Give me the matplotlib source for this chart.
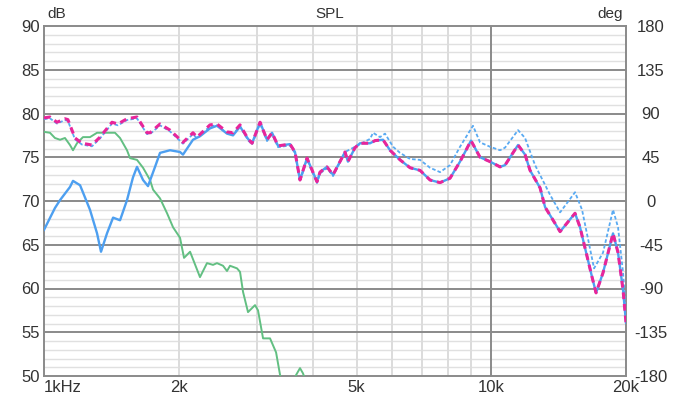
import numpy as np
import matplotlib.pyplot as plt
from matplotlib.ticker import FixedLocator, NullFormatter

plt.rcParams['font.family'] = ['Liberation Sans', 'DejaVu Sans']

# summed response (magenta dashed)
sum_f = [1000, 1031, 1069, 1114, 1131, 1173, 1216, 1280, 1334, 1419, 1463, 1533, 1614,
         1699, 1726, 1817, 1913, 2045, 2153, 2198, 2350, 2436, 2565, 2646, 2743, 2858,
         2918, 3041, 3152, 3234, 3336, 3548, 3640, 3735, 3872, 4076, 4140, 4290, 4428,
         4709, 4780, 4958, 5087, 5357, 5495, 5726, 5937, 6251, 6581, 6928, 7294, 7679,
         8084, 8511, 9006, 9435, 9933, 10458, 10731, 11474, 11895, 12205, 12851, 13187,
         14245, 15385, 15786, 16794, 17143, 17770, 18708, 19196, 19700, 20000]
sum_db = [79.5, 79.6, 79.0, 79.4, 79.3, 77.2, 76.6, 76.4, 77.3, 79.0, 78.8, 79.4, 79.6,
          77.8, 77.8, 78.8, 78.1, 76.7, 77.8, 77.3, 78.7, 78.8, 77.9, 77.8, 78.7, 77.1,
          76.6, 79.0, 77.0, 77.8, 76.3, 76.5, 75.6, 72.4, 74.9, 72.2, 73.3, 73.9, 73.0,
          75.6, 74.5, 76.1, 76.6, 76.6, 76.9, 77.0, 75.8, 74.7, 73.8, 73.5, 72.4, 72.1,
          72.6, 74.5, 76.9, 75.0, 74.5, 73.9, 74.1, 76.4, 75.3, 73.5, 71.5, 69.3,
          66.5, 68.6, 67.0, 61.3, 59.5, 61.8, 66.3, 64.1, 59.8, 56.1]

# tweeter (blue solid), low part read separately, top part follows the sum
tw_f = [1000, 1058, 1086, 1143, 1161, 1204, 1267, 1314, 1341, 1383, 1427, 1479, 1533,
        1581, 1614, 1665, 1708, 1771, 1817, 1913, 2014, 2045, 2153, 2232, 2350, 2436,
        2565, 2646, 2743] + sum_f[25:]
tw_db = [66.7, 69.2, 70.1, 71.6, 72.3, 71.8, 69.0, 66.3, 64.2, 66.3, 68.1, 67.8, 70.1,
         72.7, 73.9, 72.4, 71.7, 73.9, 75.5, 75.8, 75.6, 75.3, 77.0, 77.4, 78.3, 78.6,
         77.7, 77.5, 78.5] + sum_db[25:]

# woofer (green)
wf_f = [1000, 1031, 1058, 1086, 1114, 1143, 1161, 1185, 1222, 1267, 1314, 1355, 1405,
        1441, 1479, 1533, 1557, 1614, 1665, 1726, 1753, 1817, 1884, 1943, 2014, 2056,
        2121, 2232, 2314, 2387, 2436, 2513, 2565, 2605, 2701, 2743, 2786, 2858, 2963,
        3009, 3088, 3201, 3302, 3371, 3500, 3659, 3735, 3793, 3872, 4000]
wf_db = [77.9, 77.8, 77.2, 77.0, 77.2, 76.4, 75.8, 76.6, 77.3, 77.3, 77.8, 77.8, 77.8,
         77.8, 77.2, 75.8, 74.9, 74.7, 73.8, 72.4, 71.3, 70.3, 68.6, 67.0, 65.8, 63.5,
         64.2, 61.3, 62.9, 62.7, 62.9, 62.6, 62.0, 62.6, 62.3, 61.9, 59.6, 57.3, 58.1,
         57.5, 54.3, 54.3, 52.7, 50.1, 47.5, 50.1, 50.9, 50.3, 49.0, 46.0]

# second summed response (light blue dotted)
dot_f = sum_f[:39] + [4709, 4958, 5357, 5440, 5638, 5785, 6030, 6251, 6581, 6928, 7294,
                      7679, 8084, 8511, 9099, 9435, 9933, 10458, 10731, 11474, 11895,
                      12524, 13531, 14245, 15385, 15950, 16968, 17770, 18708, 19196,
                      19700, 20000]
dot_db = [v - 0.15 for v in sum_db[:39]] + [75.6, 76.2, 77.1, 77.8, 77.3, 77.7, 76.2, 75.5,
                                            74.8, 74.7, 73.8, 73.3, 74.1, 76.2, 78.6, 76.7,
                                            76.2, 75.8, 76.1, 78.1, 77.2, 74.1, 70.7, 68.7,
                                            71.0, 69.0, 62.3, 64.1, 69.0, 67.0, 61.8, 57.2]

x_ticks = [1000, 2000, 5000, 10000, 20000]
x_labels = ['1kHz', '2k', '5k', '10k', '20k']
db_ticks = [50, 55, 60, 65, 70, 75, 80, 85, 90]
deg_ticks = [-180, -135, -90, -45, 0, 45, 90, 135, 180]

fig = plt.figure(figsize=(6.74, 3.95), dpi=100)
ax = fig.add_axes([44 / 674, 1 - 376 / 395, 582 / 674, 350 / 395])
ax.set_xscale('log')
ax.set_xlim(1000, 20000)
ax.set_ylim(50, 90)

# grid
for v in range(51, 90):
    if v % 5:
        ax.axhline(v, color='#e0e0e0', lw=1.0, zorder=0)
for v in db_ticks[1:-1]:
    ax.axhline(v, color='#8a8a8a', lw=1.4, zorder=1)
for f in [2000, 3000, 4000, 5000, 6000, 7000, 8000, 9000]:
    ax.axvline(f, color='#dcdcdc', lw=1.4, zorder=0)
ax.axvline(10000, color='#8a8a8a', lw=1.4, zorder=1)
for s in ax.spines.values():
    s.set_color('#8a8a8a')
    s.set_linewidth(1.4)

ax.plot(wf_f, wf_db, color='#62bf82', lw=1.4, zorder=3)
ax.plot(dot_f, dot_db, color='#59aaf2', lw=1.3, ls=(0, (2, 1.2)), zorder=3)
ax.plot(tw_f, tw_db, color='#4d9ff0', lw=1.7, zorder=4)
ax.plot(sum_f, sum_db, color='#e8259a', lw=2.2, ls=(0, (2.2, 1.6)), zorder=5)

ax.xaxis.set_major_locator(FixedLocator(x_ticks))
ax.xaxis.set_minor_formatter(NullFormatter())
ax.set_xticklabels(x_labels)
ax.set_yticks(db_ticks)
ax.tick_params(length=0, labelsize=12, labelcolor='#333333', pad=3)
ax.tick_params(axis='x', which='minor', length=0)
ax.xaxis.get_ticklabels()[0].set_horizontalalignment('left')

ax2 = ax.twinx()
ax2.set_ylim(-180, 180)
ax2.set_yticks(deg_ticks)
ax2.set_yticklabels([str(d) for d in deg_ticks])
ax2.tick_params(length=0, labelsize=12, labelcolor='#333333', pad=18)
for lab in ax2.get_yticklabels():
    lab.set_horizontalalignment('center')
for s in ax2.spines.values():
    s.set_visible(False)

fig.text(47 / 674, 1 - 7 / 395, 'dB', fontsize=11, color='#333333', va='top', ha='left')
fig.text(330 / 674, 1 - 7 / 395, 'SPL', fontsize=11, color='#333333', va='top', ha='center')
fig.text(623 / 674, 1 - 7 / 395, 'deg', fontsize=11, color='#333333', va='top', ha='right')

fig.savefig('out.png', dpi=100, facecolor='white')
